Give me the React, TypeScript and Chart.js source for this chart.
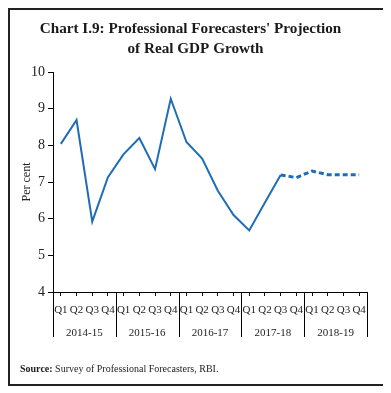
import React, { useEffect, useRef } from "react";
import { Chart, registerables } from "chart.js";

Chart.register(...registerables);

const quarters = [
  "Q1", "Q2", "Q3", "Q4",
  "Q1", "Q2", "Q3", "Q4",
  "Q1", "Q2", "Q3", "Q4",
  "Q1", "Q2", "Q3", "Q4",
  "Q1", "Q2", "Q3", "Q4",
];
const years = ["2014-15", "2015-16", "2016-17", "2017-18", "2018-19"];
const actualGrowth = [
  8.04, 8.69, 5.92, 7.13,
  7.76, 8.2, 7.35, 9.27,
  8.09, 7.64, 6.76, 6.1,
  5.68, 6.44, 7.19, null,
  null, null, null, null,
];
const projectedGrowth = [
  null, null, null, null,
  null, null, null, null,
  null, null, null, null,
  null, null, 7.19, 7.12,
  7.3, 7.2, 7.2, 7.2,
];
const yTicks = [4, 5, 6, 7, 8, 9, 10];

const titleLines = ["Chart I.9: Professional Forecasters' Projection", "of Real GDP Growth"];
const sourceBold = "Source:";
const sourceText = " Survey of Professional Forecasters, RBI.";

const SERIF = "'Liberation Serif', 'Times New Roman', serif";
const LINE = "#1f6db5";

const decorPlugin = {
  id: "decor",
  afterDraw(chart: any) {
    const ctx = chart.ctx;
    const area = chart.chartArea;
    const n = quarters.length;
    const step = (area.right - area.left) / n;
    ctx.save();
    // title
    ctx.fillStyle = "#1a1a1a";
    ctx.font = `bold 15.2px ${SERIF}`;
    ctx.textAlign = "center";
    ctx.textBaseline = "alphabetic";
    const cx = chart.width / 2 - 1;
    ctx.fillText(titleLines[0], cx - 5, 23);
    ctx.fillText(titleLines[1], cx, 43);
    // group separators
    ctx.strokeStyle = "#000";
    ctx.lineWidth = 1;
    for (let k = 0; k <= years.length; k++) {
      const px = Math.round(area.left + k * 4 * step) + 0.5;
      ctx.beginPath();
      ctx.moveTo(px, area.bottom);
      ctx.lineTo(px, area.bottom + 45);
      ctx.stroke();
    }
    // year labels
    ctx.font = `11px ${SERIF}`;
    ctx.textBaseline = "middle";
    ctx.fillStyle = "#222";
    years.forEach((yr, i) => {
      const px = area.left + (i * 4 + 2) * step;
      ctx.fillText(yr, px, area.bottom + 41);
    });
    // source
    ctx.textAlign = "left";
    ctx.textBaseline = "middle";
    ctx.font = `bold 10px ${SERIF}`;
    ctx.fillText(sourceBold, 10, 359);
    const w = ctx.measureText(sourceBold).width;
    ctx.font = `10px ${SERIF}`;
    ctx.fillText(sourceText, 10 + w, 359);
    ctx.restore();
  },
};

export default function App() {
  const ref = useRef<HTMLCanvasElement>(null);
  useEffect(() => {
    if (!ref.current) return;
    const chart = new Chart(ref.current, {
      type: "line",
      data: {
        labels: quarters,
        datasets: [
          {
            data: actualGrowth,
            borderColor: LINE,
            borderWidth: 2,
            pointRadius: 0,
            tension: 0,
            spanGaps: false,
          },
          {
            data: projectedGrowth,
            borderColor: LINE,
            borderWidth: 3,
            borderDash: [5, 3],
            pointRadius: 0,
            tension: 0,
            spanGaps: false,
          },
        ],
      },
      options: {
        responsive: false,
        animation: false,
        devicePixelRatio: 1,
        layout: { padding: { left: 8, right: 16, top: 62, bottom: 52 } },
        plugins: {
          legend: { display: false },
          tooltip: { enabled: false },
          title: { display: false },
        },
        scales: {
          x: {
            type: "category",
            offset: true,
            afterFit: (s: any) => { s.height = 40; },
            grid: {
              drawOnChartArea: false,
              tickLength: 4,
              color: "#000",
              offset: false,
            },
            border: { display: true, color: "#000", width: 1 },
            ticks: {
              autoSkip: false,
              maxRotation: 0,
              padding: 8,
              color: "#222",
              font: { family: SERIF, size: 11 },
            },
          },
          y: {
            min: 4,
            max: 10,
            afterFit: (s: any) => { s.width = 35; },
            afterBuildTicks: (s: any) => { s.ticks = yTicks.map((v) => ({ value: v })); },
            grid: {
              drawOnChartArea: false,
              tickLength: 5,
              color: "#000",
            },
            border: { display: true, color: "#000", width: 1 },
            ticks: {
              padding: 3,
              color: "#222",
              font: { family: SERIF, size: 14 },
            },
            title: {
              display: true,
              text: "Per cent",
              color: "#222",
              font: { family: SERIF, size: 12 },
              padding: { top: 2, bottom: 0 },
            },
          },
        },
      },
      plugins: [decorPlugin],
    });
    return () => chart.destroy();
  }, []);
  return (
    <div
      style={{
        width: 377,
        height: 378,
        boxSizing: "border-box",
        border: "2px solid #222",
        background: "#fff",
      }}
    >
      <canvas ref={ref} width={373} height={374} style={{ display: "block" }} />
    </div>
  );
}
